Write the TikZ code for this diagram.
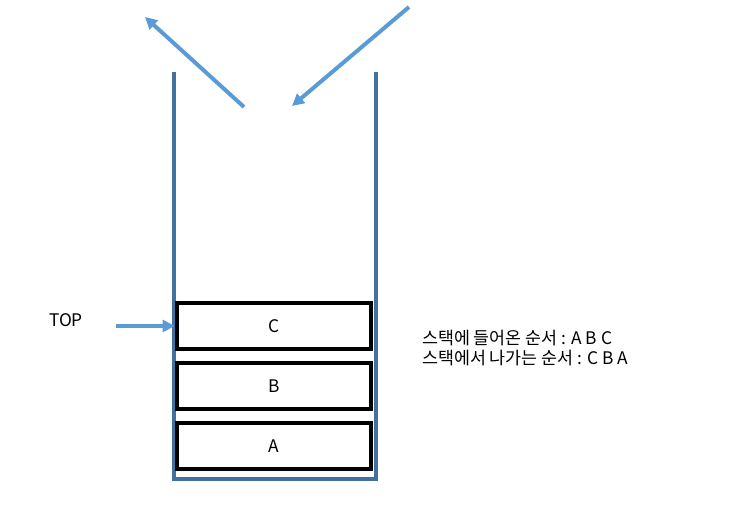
\documentclass[tikz,border=0pt]{standalone}
\usepackage{fontspec}
\setmainfont{Noto Sans CJK KR}
\usetikzlibrary{arrows.meta}
\definecolor{wall}{HTML}{41719C}
\definecolor{arr}{HTML}{5B9BD5}
\begin{document}
\begin{tikzpicture}[x=0.75pt,y=-0.75pt,
  wallline/.style={draw=wall,line width=3.5pt},
  arrline/.style={draw=arr,line width=3pt,-{Triangle[length=9pt,width=9pt]}},
  box/.style={draw=black,line width=3pt,minimum width=146pt,minimum height=35pt,inner sep=0pt,font=\fontsize{13}{15}\selectfont},
  lbl/.style={font=\fontsize{13}{15}\selectfont,inner sep=0pt}]
\path[use as bounding box] (0,0) rectangle (735,504);
\coordinate (tl) at (174,72); \coordinate (bl) at (174,479);
\coordinate (br) at (376,479); \coordinate (tr) at (376,72);
\draw[wallline] (tl) -- (bl) -- (br) -- (tr);
\node[box] (c) at (274,326) {C};
\node[box] (b) at (274,386) {B};
\node[box] (a) at (274,446) {A};
\coordinate (o1) at (244,107); \coordinate (o2) at (145,17);
\coordinate (i1) at (409,7); \coordinate (i2) at (292,106);
\draw[arrline] (o1) -- (o2);
\draw[arrline] (i1) -- (i2);
\node[lbl] (top) at (66,320) {TOP};
\coordinate (t1) at (116,326);
\draw[arrline] (t1) -- (c.west);
\node[lbl,anchor=west,align=left] (txt) at (422,348) {스택에 들어온 순서 : A B C\\스택에서 나가는 순서 : C B A};
\end{tikzpicture}
\end{document}
